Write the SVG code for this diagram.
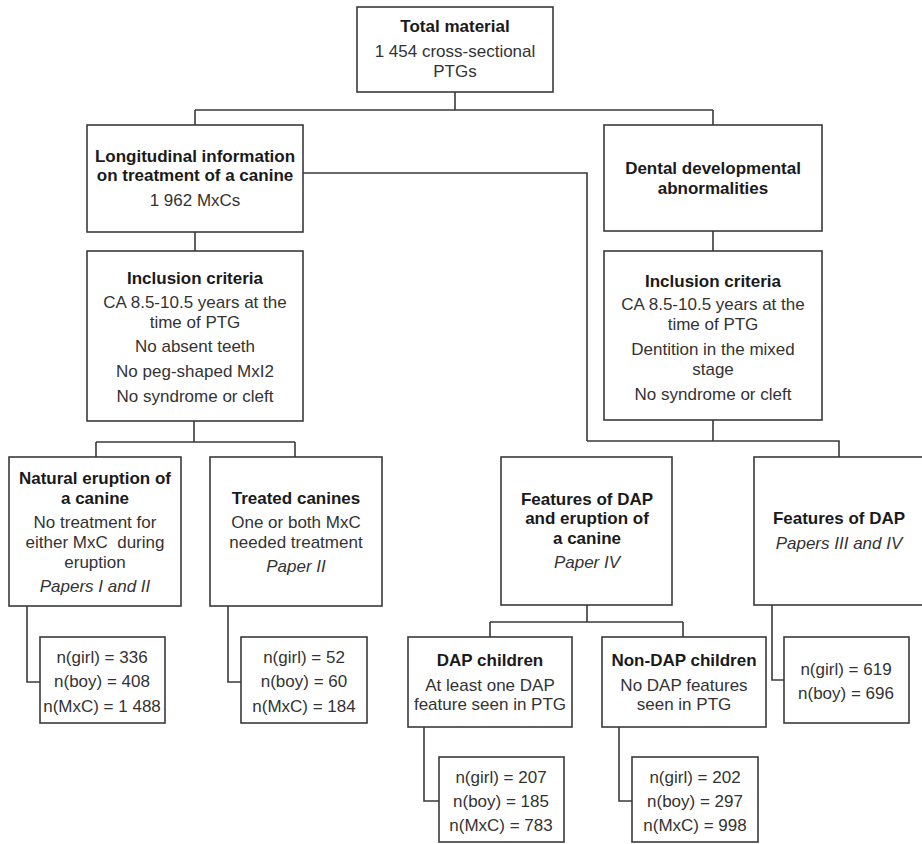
<svg xmlns="http://www.w3.org/2000/svg" width="922" height="844" viewBox="0 0 922 844">
<style>
.box{fill:#fff;stroke:#3a3a3a;stroke-width:1.6}
.ln{fill:none;stroke:#3a3a3a;stroke-width:1.6}
text{font-family:"Liberation Sans",Arial,sans-serif;font-size:17px;text-anchor:middle;fill:#333}
.b{font-weight:bold;fill:#1a1a1a}
.i{font-style:italic}
</style>
<rect width="922" height="844" fill="#fff"/>
<g id="connectors">
<path class="ln" d="M455,92 V110 M195,110 H713 M195,110 V125 M713,110 V125"/>
<path class="ln" d="M195,232 V251"/>
<path class="ln" d="M303,173 H587 V441"/>
<path class="ln" d="M713,231 V251"/>
<path class="ln" d="M713,420 V441 M587,441 H839 V457"/>
<path class="ln" d="M194,421 V442 M96,442 H295 M96,442 V457 M295,442 V457"/>
<path class="ln" d="M27,606 V682 H40"/>
<path class="ln" d="M228,606 V682 H241"/>
<path class="ln" d="M587,605 V622 M490,622 H683 M490,622 V637 M683,622 V637"/>
<path class="ln" d="M772,605 V680 H784"/>
<path class="ln" d="M424,727 V801 H439"/>
<path class="ln" d="M619,727 V801 H632"/>
</g>
<g id="total">
<rect class="box" x="357" y="7" width="196" height="85"/>
<text x="455" y="32" class="b">Total material</text>
<text x="455" y="57">1 454 cross-sectional</text>
<text x="455" y="77">PTGs</text>
</g>
<g id="longitudinal">
<rect class="box" x="87" y="125" width="216" height="107"/>
<text x="195" y="162" class="b">Longitudinal information</text>
<text x="195" y="181" class="b">on treatment of a canine</text>
<text x="195" y="206">1 962 MxCs</text>
</g>
<g id="dental">
<rect class="box" x="604" y="125" width="218" height="106"/>
<text x="713" y="174" class="b">Dental developmental</text>
<text x="713" y="194" class="b">abnormalities</text>
</g>
<g id="inclusion-left">
<rect class="box" x="87" y="251" width="216" height="170"/>
<text x="195" y="284" class="b">Inclusion criteria</text>
<text x="195" y="308">CA 8.5-10.5 years at the</text>
<text x="195" y="328">time of PTG</text>
<text x="195" y="352">No absent teeth</text>
<text x="195" y="377">No peg-shaped MxI2</text>
<text x="195" y="402">No syndrome or cleft</text>
</g>
<g id="inclusion-right">
<rect class="box" x="604" y="251" width="218" height="169"/>
<text x="713" y="287" class="b">Inclusion criteria</text>
<text x="713" y="310">CA 8.5-10.5 years at the</text>
<text x="713" y="330">time of PTG</text>
<text x="713" y="355">Dentition in the mixed</text>
<text x="713" y="375">stage</text>
<text x="713" y="400">No syndrome or cleft</text>
</g>
<g id="natural">
<rect class="box" x="9" y="457" width="172" height="149"/>
<text x="95" y="484" class="b">Natural eruption of</text>
<text x="95" y="504" class="b">a canine</text>
<text x="95" y="528">No treatment for</text>
<text x="95" y="548" xml:space="preserve">either MxC  during</text>
<text x="95" y="568">eruption</text>
<text x="95" y="592" class="i">Papers I and II</text>
</g>
<g id="treated">
<rect class="box" x="210" y="457" width="172" height="149"/>
<text x="296" y="504" class="b">Treated canines</text>
<text x="296" y="528">One or both MxC</text>
<text x="296" y="548">needed treatment</text>
<text x="296" y="572" class="i">Paper II</text>
</g>
<g id="features-eruption">
<rect class="box" x="501" y="457" width="171" height="148"/>
<text x="587" y="505" class="b">Features of DAP</text>
<text x="587" y="524" class="b">and eruption of</text>
<text x="587" y="544" class="b">a canine</text>
<text x="587" y="568" class="i">Paper IV</text>
</g>
<g id="features-dap">
<rect class="box" x="754" y="457" width="172" height="148"/>
<text x="839" y="524" class="b">Features of DAP</text>
<text x="839" y="549" class="i">Papers III and IV</text>
</g>
<g id="stats-natural">
<rect class="box" x="40" y="637" width="125" height="86"/>
<text x="102" y="663">n(girl) = 336</text>
<text x="102" y="687">n(boy) = 408</text>
<text x="102" y="712">n(MxC) = 1 488</text>
</g>
<g id="stats-treated">
<rect class="box" x="241" y="637" width="126" height="86"/>
<text x="304" y="663">n(girl) = 52</text>
<text x="304" y="687">n(boy) = 60</text>
<text x="304" y="712">n(MxC) = 184</text>
</g>
<g id="dap-children">
<rect class="box" x="408" y="637" width="164" height="90"/>
<text x="490" y="666" class="b">DAP children</text>
<text x="490" y="691">At least one DAP</text>
<text x="490" y="710">feature seen in PTG</text>
</g>
<g id="non-dap-children">
<rect class="box" x="602" y="637" width="164" height="90"/>
<text x="684" y="666" class="b">Non-DAP children</text>
<text x="684" y="691">No DAP features</text>
<text x="684" y="710">seen in PTG</text>
</g>
<g id="stats-features">
<rect class="box" x="784" y="637" width="125" height="86"/>
<text x="846" y="675">n(girl) = 619</text>
<text x="846" y="699">n(boy) = 696</text>
</g>
<g id="stats-dap">
<rect class="box" x="439" y="757" width="125" height="85"/>
<text x="501" y="783">n(girl) = 207</text>
<text x="501" y="807">n(boy) = 185</text>
<text x="501" y="831">n(MxC) = 783</text>
</g>
<g id="stats-non-dap">
<rect class="box" x="632" y="757" width="126" height="85"/>
<text x="695" y="783">n(girl) = 202</text>
<text x="695" y="807">n(boy) = 297</text>
<text x="695" y="831">n(MxC) = 998</text>
</g>
</svg>
